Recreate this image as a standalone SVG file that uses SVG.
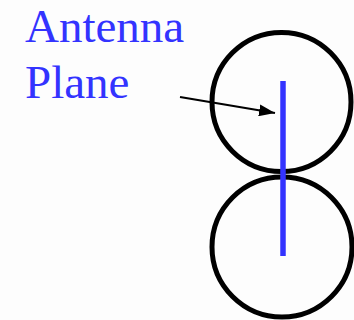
<svg xmlns="http://www.w3.org/2000/svg" width="354" height="320" viewBox="0 0 354 320">
<defs>
<style>
.lbl{font-family:"Liberation Serif","Times New Roman",serif;font-size:47px;fill:#3333ff}
.ring{fill:none;stroke:#000;stroke-width:5}
</style>
<marker id="ah" markerWidth="16" markerHeight="12" refX="16" refY="6" orient="auto" markerUnits="userSpaceOnUse">
<path d="M0,0 L16,6 L0,12 Z" fill="#000"/>
</marker>
</defs>
<rect width="354" height="320" fill="#fdfdfd"/>
<g id="label">
<text class="lbl" x="25" y="42">Antenna</text>
<text class="lbl" x="25" y="98">Plane</text>
</g>
<g id="circle-top"><circle class="ring" cx="281.5" cy="102" r="69.5"/></g>
<g id="circle-bottom"><circle class="ring" cx="282" cy="247" r="70"/></g>
<g id="antenna"><line x1="283" y1="81" x2="283" y2="256" stroke="#3333ff" stroke-width="5.5"/></g>
<g id="connectors">
<line x1="180" y1="97" x2="275" y2="113" stroke="#000" stroke-width="2" marker-end="url(#ah)"/>
</g>
</svg>
